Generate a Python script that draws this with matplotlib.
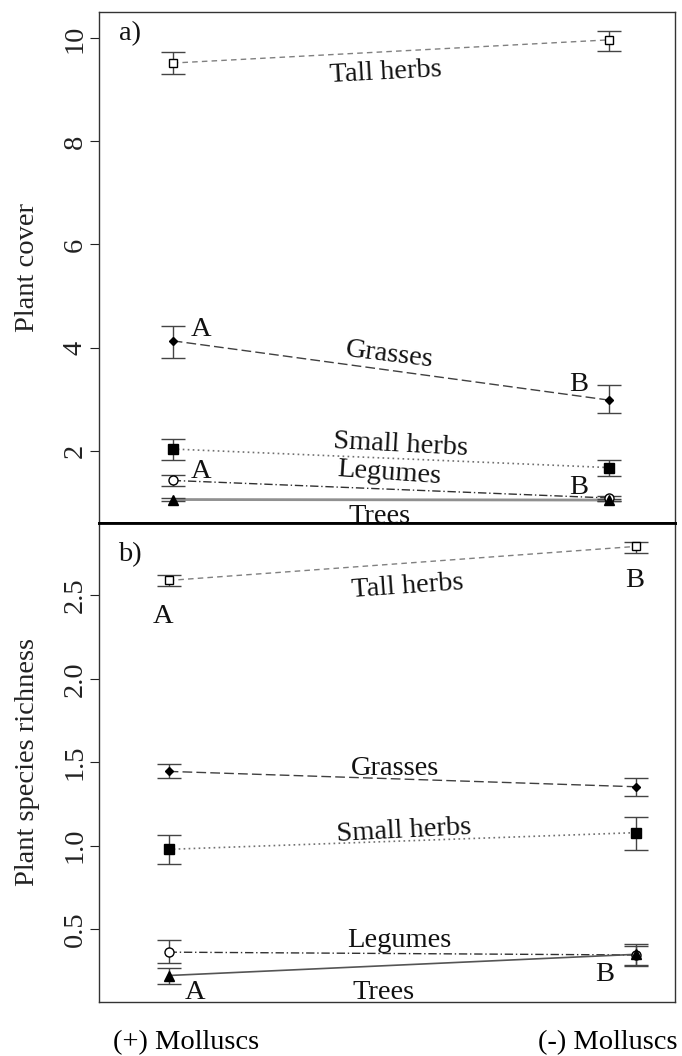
import matplotlib
matplotlib.use('Agg')
import matplotlib.pyplot as plt
import numpy as np

plt.rcParams['font.family'] = ['Liberation Serif', 'DejaVu Serif']

# treatments, drawn at x = 1 and x = 2
groups = ['(+) Molluscs', '(-) Molluscs']
x = np.array([1, 2])

# a) plant cover: means with lower / upper error bar ends
cover_tall = [9.52, 9.97]
cover_tall_lo = [9.30, 9.76]
cover_tall_hi = [9.74, 10.15]
cover_grass = [4.13, 2.98]
cover_grass_lo = [3.80, 2.72]
cover_grass_hi = [4.41, 3.27]
cover_small = [2.03, 1.67]
cover_small_lo = [1.82, 1.50]
cover_small_hi = [2.23, 1.82]
cover_legume = [1.42, 1.08]
cover_legume_lo = [1.31, 1.03]
cover_legume_hi = [1.52, 1.12]
cover_tree = [1.05, 1.04]
cover_tree_lo = [1.03, 1.02]
cover_tree_hi = [1.07, 1.06]

# b) plant species richness
rich_tall = [2.589, 2.793]
rich_tall_lo = [2.553, 2.755]
rich_tall_hi = [2.623, 2.821]
rich_grass = [1.445, 1.353]
rich_grass_lo = [1.407, 1.298]
rich_grass_hi = [1.492, 1.404]
rich_small = [0.978, 1.078]
rich_small_lo = [0.893, 0.976]
rich_small_hi = [1.063, 1.173]
rich_legume = [0.362, 0.345]
rich_legume_lo = [0.298, 0.286]
rich_legume_hi = [0.434, 0.409]
rich_tree = [0.222, 0.349]
rich_tree_lo = [0.169, 0.278]
rich_tree_hi = [0.267, 0.400]

FS = 20.5


def draw_group(ax, means, lo, hi, marker, mfc, ls, lc, lw, ms=6.5):
    means = np.array(means)
    yerr = [means - np.array(lo), np.array(hi) - means]
    ax.plot(x, means, ls=ls, color=lc, lw=lw, zorder=2)
    ax.errorbar(x, means, yerr=yerr, fmt=marker, mfc=mfc, mec='black', mew=1,
                ms=ms, ecolor='#444444', elinewidth=1, capsize=8.6, capthick=1,
                zorder=3)


def style_axes(ax, ticks, labels, ylabel):
    ax.set_xticks([])
    ax.set_yticks(ticks)
    ax.set_yticklabels(labels)
    ax.tick_params(axis='y', direction='out', length=6.3, width=0.8, pad=2,
                   labelsize=FS, labelrotation=90, colors='#222222')
    for tl in ax.get_yticklabels():
        tl.set_va('center')
    for s in ax.spines.values():
        s.set_color('#333333')
        s.set_linewidth(1)
    ax.set_ylabel(ylabel, fontsize=FS, va='center', color='#222222')
    ax.yaxis.set_label_coords(-0.125, 0.5)


fig = plt.figure(figsize=(6.82, 10.56), dpi=100)
ax_a = fig.add_axes([0.1452, 0.505, 0.8446, 0.4836])
ax_b = fig.add_axes([0.1452, 0.0514, 0.8446, 0.4536])

# ---- a) plant cover
draw_group(ax_a, cover_tall, cover_tall_lo, cover_tall_hi, 's', 'white', (0, (4, 3)), '#808080', 1.0, ms=6)
draw_group(ax_a, cover_grass, cover_grass_lo, cover_grass_hi, 'D', 'black', (0, (7, 3)), '#404040', 1.0, ms=4.5)
draw_group(ax_a, cover_small, cover_small_lo, cover_small_hi, 's', 'black', (0, (1, 2)), '#707070', 1.2)
draw_group(ax_a, cover_legume, cover_legume_lo, cover_legume_hi, 'o', 'white', (0, (6, 2, 1, 2)), '#303030', 1.0)
draw_group(ax_a, cover_tree, cover_tree_lo, cover_tree_hi, '^', 'black', '-', '#909090', 2.0)

ax_a.set_xlim(0.831, 2.152)
ax_a.set_ylim(0.6, 10.51)
style_axes(ax_a, [2, 4, 6, 8, 10], ['2', '4', '6', '8', '10'], 'Plant cover')

txt = dict(fontsize=FS, ha='center', va='center', color='#111111')
ax_a.text(0.901, 10.09, 'a)', **txt)
ax_a.text(1.489, 9.33, 'Tall herbs', rotation=3, **txt)
ax_a.text(1.497, 3.85, 'Grasses', rotation=-7, **txt)
ax_a.text(1.065, 4.34, 'A', **txt)
ax_a.text(1.930, 3.29, 'B', **txt)
ax_a.text(1.523, 2.11, 'Small herbs', rotation=-3, **txt)
ax_a.text(1.065, 1.59, 'A', **txt)
ax_a.text(1.497, 1.56, 'Legumes', rotation=-4, **txt)
ax_a.text(1.930, 1.29, 'B', **txt)
ax_a.text(1.474, 0.73, 'Trees', clip_on=True, **txt)

# ---- b) species richness
draw_group(ax_b, rich_tall, rich_tall_lo, rich_tall_hi, 's', 'white', (0, (4, 3)), '#808080', 1.0, ms=6)
draw_group(ax_b, rich_grass, rich_grass_lo, rich_grass_hi, 'D', 'black', (0, (7, 3)), '#404040', 1.0, ms=4.5)
draw_group(ax_b, rich_small, rich_small_lo, rich_small_hi, 's', 'black', (0, (1, 2)), '#707070', 1.2)
draw_group(ax_b, rich_legume, rich_legume_lo, rich_legume_hi, 'o', 'white', (0, (6, 2, 1, 2)), '#303030', 1.0)
draw_group(ax_b, rich_tree, rich_tree_lo, rich_tree_hi, '^', 'black', '-', '#555555', 1.2)

ax_b.set_xlim(0.851, 2.084)
ax_b.set_ylim(0.065, 2.935)
style_axes(ax_b, [0.5, 1.0, 1.5, 2.0, 2.5], ['0.5', '1.0', '1.5', '2.0', '2.5'],
           'Plant species richness')

ax_b.text(0.918, 2.744, 'b)', **txt)
ax_b.text(1.511, 2.553, 'Tall herbs', rotation=4, **txt)
ax_b.text(0.988, 2.373, 'A', **txt)
ax_b.text(1.998, 2.589, 'B', **txt)
ax_b.text(1.484, 1.46, 'Grasses', **txt)
ax_b.text(1.503, 1.088, 'Small herbs', rotation=3, **txt)
ax_b.text(1.493, 0.43, 'Legumes', **txt)
ax_b.text(1.460, 0.122, 'Trees', **txt)
ax_b.text(1.056, 0.122, 'A', **txt)
ax_b.text(1.934, 0.228, 'B', **txt)

# shared border between the two panels
ax_a.spines['bottom'].set_color('black')
ax_a.spines['bottom'].set_linewidth(2)
ax_b.spines['top'].set_color('black')
ax_b.spines['top'].set_linewidth(2)

fig.text(186 / 682, 1 - 1043 / 1056, groups[0], fontsize=FS, ha='center', va='center')
fig.text(608 / 682, 1 - 1043 / 1056, groups[1], fontsize=FS, ha='center', va='center')

fig.savefig('out.png', dpi=100, facecolor='white')
